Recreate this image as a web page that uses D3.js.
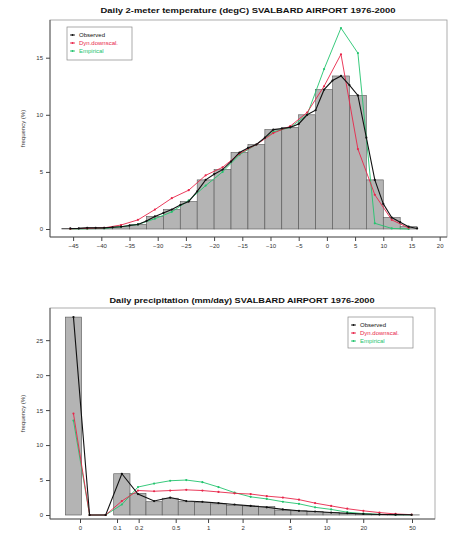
<!DOCTYPE html>
<html><head><meta charset="utf-8">
<script src="https://cdn.jsdelivr.net/npm/d3@7"></script>
<style>body{margin:0;background:#fff}svg{display:block;font-family:"Liberation Sans",Arial,sans-serif}</style>
</head><body><svg id="c" width="454" height="540"></svg>
<script>
// ---------- Temperature panel data ----------
const tempTitle = "Daily 2-meter temperature (degC) SVALBARD AIRPORT 1976-2000";
const tempTicks = [-45,-40,-35,-30,-25,-20,-15,-10,-5,0,5,10,15,20];
const tempYTicks = [0,5,10,15];
const tempBinEdges = [-47,-44,-41,-38,-35,-32,-29,-26,-23,-20,-17,-14,-11,-8,-5,-2,1,4,7,10,13,16];
const tempBars = [0.05,0.1,0.1,0.2,0.4,1.1,1.7,2.4,4.3,5.2,6.7,7.4,8.7,8.9,10.0,12.2,13.4,11.7,4.3,1.0,0.2];
const tempObsX = [-45.5,-44,-42.5,-41,-39.5,-38,-36.5,-35,-33.5,-32,-30.5,-29,-27.5,-26,-24.5,-23,-21.5,-20,-18.5,-17,-15.5,-14,-12.5,-11,-9.5,-8,-6.5,-5,-3.5,-2,-0.5,1,2.5,4,5.5,7,8.5,10,11.5,13,14.5,16];
const tempObs = [0.05,0.05,0.1,0.1,0.1,0.15,0.2,0.3,0.4,0.7,1.1,1.4,1.7,2.1,2.4,3.3,4.3,4.8,5.2,5.9,6.7,7.1,7.4,8.0,8.7,8.8,8.9,9.2,10.0,10.4,12.2,13.0,13.4,12.6,11.7,8.0,4.3,2.2,1.0,0.6,0.2,0.05];
const tempModX = [-45.5,-42.5,-39.5,-36.5,-33.5,-30.5,-27.5,-24.5,-21.5,-18.5,-15.5,-12.5,-9.5,-6.5,-3.5,-0.5,2.5,5.5,8.5,11.5,14.5];
const tempDyn = [0.02,0.05,0.1,0.35,0.8,1.7,2.7,3.4,4.7,5.4,6.6,7.4,8.4,9.0,10.2,12.5,15.3,7.0,3.0,0.8,0.1];
const tempEmp = [0,0.02,0.05,0.2,0.4,0.9,1.5,2.5,3.8,5.0,6.5,7.4,8.5,8.9,10.0,14.0,17.6,15.4,0.5,0.05,0];

// ---------- Precipitation panel data ----------
const precTitle = "Daily precipitation (mm/day) SVALBARD AIRPORT 1976-2000";
const precTicks = [0,0.1,0.2,0.5,1,2,5,10,20,50];
const precYTicks = [0,5,10,15,20,25];
const precBinEdges = [-0.024,0.003,0.039,0.088,0.155,0.244,0.366,0.529,0.751,1.05,1.454,2.0,2.74,3.74,5.09,6.92,9.38,12.72,17.23,23.33,31.56,42.69,57.74];
const precBars = [28.3,0,0,5.9,3.1,1.9,2.4,1.9,1.8,1.6,1.4,1.3,1.2,0.7,0.6,0.5,0.35,0.25,0.15,0.08,0.04,0.02];
const precObs  = [28.3,0,0,5.9,3.0,2.0,2.5,2.0,1.9,1.7,1.5,1.3,1.1,0.8,0.6,0.5,0.35,0.25,0.15,0.08,0.05,0.03];
const precDyn  = [14.5,0,0,2.0,3.5,3.4,3.5,3.6,3.5,3.3,3.1,3.0,2.7,2.5,2.2,1.7,1.3,0.9,0.6,0.35,0.15,0.05];
const precEmp  = [13.5,0,0,1.5,4.0,4.5,4.9,5.0,4.7,4.0,3.2,2.6,2.3,1.9,1.6,1.1,0.8,0.4,0.2,0.1,0.05,0.02];

const legendLabels = ["Observed","Dyn.downscal.","Empirical"];
const seriesColors = ["#111111","#e8264a","#22c46e"];

const svg = d3.select("#c");

function panel(o){
  const g = svg.append("g");
  // title
  g.append("text").attr("x",o.titleX).attr("y",o.titleY).attr("text-anchor","middle")
    .attr("font-size",8).attr("font-weight","bold").attr("fill","#111")
    .attr("textLength",o.titleW).attr("lengthAdjust","spacingAndGlyphs").text(o.title);
  // bars
  const bars = o.bars.map((v,i)=>({lo:o.edges[i],hi:o.edges[i+1],v}));
  g.selectAll("rect.bar").data(bars.filter(d=>d.v>0)).join("rect").attr("class","bar")
    .attr("x",d=>o.px(d.lo)).attr("width",d=>o.px(d.hi)-o.px(d.lo))
    .attr("y",d=>o.y(d.v)).attr("height",d=>o.y(0)-o.y(d.v))
    .attr("fill","#b4b4b4").attr("stroke","#555").attr("stroke-width",0.6);
  // lines
  const series = [
    {x:o.obsX,y:o.obs,c:seriesColors[0],w:1.1},
    {x:o.modX,y:o.dyn,c:seriesColors[1],w:0.9},
    {x:o.modX,y:o.emp,c:seriesColors[2],w:0.9}
  ];
  const line = d3.line().x(d=>o.px(d[0])).y(d=>o.y(d[1]));
  series.slice().reverse().forEach(s=>{
    const pts = s.x.map((xv,i)=>[xv,s.y[i]]);
    g.append("path").attr("d",line(pts)).attr("fill","none").attr("stroke",s.c).attr("stroke-width",s.w);
    g.selectAll(null).data(pts).join("circle").attr("cx",d=>o.px(d[0])).attr("cy",d=>o.y(d[1]))
      .attr("r",1.1).attr("fill",s.c);
  });
  // frame
  g.append("rect").attr("x",o.L).attr("y",o.T).attr("width",o.R-o.L).attr("height",o.B-o.T)
    .attr("fill","none").attr("stroke","#999").attr("stroke-width",0.8);
  g.append("line").attr("x1",o.L).attr("x2",o.R).attr("y1",o.B).attr("y2",o.B).attr("stroke","#444").attr("stroke-width",0.8);
  g.append("line").attr("x1",o.L).attr("x2",o.L).attr("y1",o.T).attr("y2",o.B).attr("stroke","#444").attr("stroke-width",0.8);
  // x axis
  const xa = g.append("g").attr("transform",`translate(0,${o.B})`).call(o.xAxis);
  xa.select(".domain").remove();
  xa.selectAll("line").attr("stroke","#444");
  xa.selectAll("text").attr("font-size",6).attr("fill","#333").attr("font-family","Liberation Sans, Arial, sans-serif");
  // y axis
  const ya = g.append("g").attr("transform",`translate(${o.L},0)`)
    .call(d3.axisLeft(o.y).tickValues(o.yTicks).tickSize(4).tickPadding(3));
  ya.select(".domain").remove();
  ya.selectAll("line").attr("stroke","#444");
  ya.selectAll("text").attr("font-size",6).attr("fill","#333").attr("font-family","Liberation Sans, Arial, sans-serif");
  // y label
  g.append("text").attr("transform",`translate(25,${(o.T+o.B)/2}) rotate(-90)`).attr("text-anchor","middle")
    .attr("font-size",6).attr("fill","#333").text("frequency (%)");
  // legend
  const lg = g.append("g").attr("transform",`translate(${o.legX},${o.legY})`);
  lg.append("rect").attr("width",o.legW).attr("height",o.legH).attr("fill","#fff").attr("stroke","#888").attr("stroke-width",0.7);
  legendLabels.forEach((t,i)=>{
    const yy = 8+i*8;
    lg.append("line").attr("x1",3).attr("x2",8).attr("y1",yy).attr("y2",yy).attr("stroke",seriesColors[i]).attr("stroke-width",0.9);
    lg.append("circle").attr("cx",5.5).attr("cy",yy).attr("r",1).attr("fill",seriesColors[i]);
    lg.append("text").attr("x",12).attr("y",yy+2).attr("font-size",6).attr("fill",seriesColors[i]).text(t);
  });
}

// temperature panel
const xT = d3.scaleLinear().domain([-49.1,21.3]).range([50,447]);
const yT = d3.scaleLinear().domain([-0.7,18.3]).range([237,20]);
panel({
  title:tempTitle,titleX:248,titleY:13,titleW:295,
  L:50,R:447,T:20,B:237,
  px:v=>xT(v), y:yT, edges:tempBinEdges, bars:tempBars,
  obsX:tempObsX, obs:tempObs, modX:tempModX, dyn:tempDyn, emp:tempEmp,
  yTicks:tempYTicks,
  xAxis:d3.axisBottom(xT).tickValues(tempTicks).tickSize(4).tickPadding(3),
  legX:67,legY:27,legW:65,legH:33
});

// precipitation panel (axis is log10(x + 0.1))
const xPlog = d3.scaleLog().domain([0.1,50.1]).range([80,412]);
const xP = v=>xPlog(v+0.1);
const yP = d3.scaleLinear().domain([-0.57,29.6]).range([519,308]);
const precCenters = precBars.map((v,i)=>xPlog.invert((xP(precBinEdges[i])+xP(precBinEdges[i+1]))/2)-0.1);
panel({
  title:precTitle,titleX:242,titleY:303,titleW:265,
  L:50,R:435,T:308,B:519,
  px:xP, y:yP, edges:precBinEdges, bars:precBars,
  obsX:precCenters, obs:precObs, modX:precCenters, dyn:precDyn, emp:precEmp,
  yTicks:precYTicks,
  xAxis:d3.axisBottom(xPlog).tickValues(precTicks.map(v=>v+0.1)).tickFormat((d,i)=>String(precTicks[i])).tickSize(4).tickPadding(3),
  legX:348,legY:317,legW:65,legH:31
});
</script></body></html>
